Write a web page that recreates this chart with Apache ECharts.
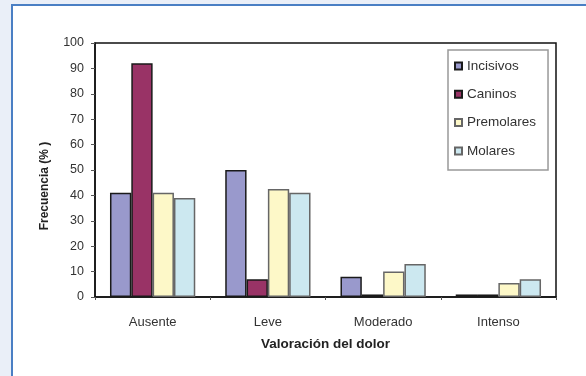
<!DOCTYPE html>
<html>
<head>
<meta charset="utf-8">
<script src="https://cdn.jsdelivr.net/npm/echarts@6/dist/echarts.min.js"></script>
<style>
  html, body { margin: 0; padding: 0; background: #eaeff8; }
  #chart { width: 586px; height: 376px; }
</style>
</head>
<body>
<div id="chart"></div>
<script>
// Pain rating categories
const categories = ['Ausente', 'Leve', 'Moderado', 'Intenso'];
// Frequency (%) per tooth group
const incisivos  = [41, 50, 8, 1];
const caninos    = [92, 7, 1, 1];
const premolares = [41, 42.5, 10, 5.5];
const molares    = [39, 41, 13, 7];
const yTicks = [0, 10, 20, 30, 40, 50, 60, 70, 80, 90, 100];

const font = 'Liberation Sans, Arial, sans-serif';

function barSeries(name, data, fill, stroke) {
  return {
    name: name,
    type: 'bar',
    data: data,
    barGap: '0%',
    barCategoryGap: '26%',
    itemStyle: { color: fill, borderColor: stroke, borderWidth: 1.5 },
    emphasis: { disabled: true }
  };
}

const chart = echarts.init(document.getElementById('chart'));
chart.setOption({
  backgroundColor: '#eaeff8',
  animation: false,
  graphic: [{
    type: 'rect',
    z: -10,
    shape: { x: 12, y: 5, width: 620, height: 420 },
    style: { fill: '#ffffff', stroke: '#4a7fc4', lineWidth: 2 }
  }],
  grid: {
    left: 95, right: 30, top: 43, bottom: 79,
    show: true, borderColor: '#111', borderWidth: 1.5, backgroundColor: 'transparent'
  },
  legend: {
    orient: 'vertical',
    left: 448, top: 50,
    padding: [9, 12, 12, 6],
    itemGap: 14.3,
    itemWidth: 7, itemHeight: 7,
    icon: 'rect',
    borderColor: '#999', borderWidth: 1.5,
    textStyle: { fontFamily: font, fontSize: 13.5, color: '#333' },
    data: ['Incisivos', 'Caninos', 'Premolares', 'Molares']
  },
  xAxis: {
    type: 'category',
    data: categories,
    name: 'Valoración del dolor',
    nameLocation: 'middle',
    nameGap: 40,
    nameTextStyle: { fontFamily: font, fontSize: 13.5, fontWeight: 'bold', color: '#222' },
    axisLine: { lineStyle: { color: '#111', width: 1.5 } },
    axisTick: { show: true, length: 3, lineStyle: { color: '#555' } },
    axisLabel: { fontFamily: font, fontSize: 13, color: '#333', margin: 19 }
  },
  yAxis: {
    type: 'value',
    min: yTicks[0], max: yTicks[yTicks.length - 1], interval: 10,
    name: 'Frecuencia (% )',
    nameLocation: 'middle',
    nameRotate: 90,
    nameGap: 44,
    nameTextStyle: { fontFamily: font, fontSize: 12, fontWeight: 'bold', color: '#222', padding: [0, 32, 0, 0] },
    axisLine: { show: true, lineStyle: { color: '#111', width: 1.5 } },
    axisTick: { show: true, length: 4, lineStyle: { color: '#555' } },
    splitLine: { show: false },
    axisLabel: { fontFamily: font, fontSize: 12.5, color: '#333', margin: 11 }
  },
  series: [
    barSeries('Incisivos', incisivos, '#9999cc', '#1a1a1a'),
    barSeries('Caninos', caninos, '#993366', '#1a1a1a'),
    barSeries('Premolares', premolares, '#fdf8c8', '#666'),
    barSeries('Molares', molares, '#cce8f0', '#666')
  ]
});
</script>
</body>
</html>
